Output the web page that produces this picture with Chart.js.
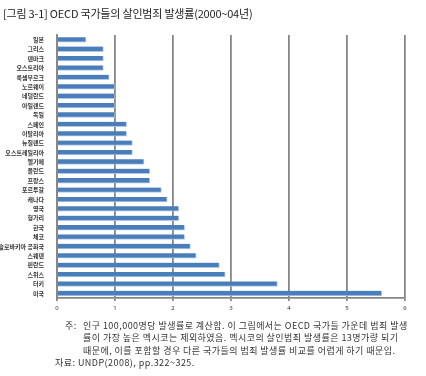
<!DOCTYPE html>
<html><head><meta charset="utf-8">
<script src="https://cdn.jsdelivr.net/npm/chart.js@4/dist/chart.umd.min.js"></script>
<style>
html,body{margin:0;padding:0;background:#fff;width:426px;height:376px;overflow:hidden;font-family:"Noto Sans CJK KR","Noto Sans",sans-serif;}
#wrap{position:absolute;left:0;top:0;width:426px;height:376px;}
#title{position:absolute;left:3px;top:5px;font-size:11px;color:#222;white-space:nowrap;letter-spacing:-0.2px;}
.note{position:absolute;font-size:9px;letter-spacing:0.45px;color:#333;white-space:nowrap;line-height:12.3px;}
</style></head>
<body>
<div id="wrap"><canvas id="c" width="426" height="376"></canvas></div>
<div id="title">[그림 3-1] OECD 국가들의 살인범죄 발생률(2000~04년)</div>
<div class="note" style="left:65px;top:320px;">주:</div>
<div class="note" style="left:83px;top:320px;">인구 100,000명당 발생률로 계산함. 이 그림에서는 OECD 국가들 가운데 범죄 발생<br>률이 가장 높은 멕시코는 제외하였음. 멕시코의 살인범죄 발생률은 13명가량 되기<br>때문에, 이를 포함할 경우 다른 국가들의 범죄 발생률 비교를 어렵게 하기 때문임.</div>
<div class="note" style="left:55px;top:357px;">자료: UNDP(2008), pp.322~325.</div>
<script>
const categories = ["일본","그리스","덴마크","오스트리아","룩셈부르크","노르웨이","네덜란드","아일랜드","독일","스페인","이탈리아","뉴질랜드","오스트레일리아","벨기에","폴란드","프랑스","포르투갈","캐나다","영국","헝가리","한국","체코","슬로바키아 공화국","스웨덴","핀란드","스위스","터키","미국"];
const values = [0.5,0.8,0.8,0.8,0.9,1.0,1.0,1.0,1.0,1.2,1.2,1.3,1.3,1.5,1.6,1.6,1.8,1.9,2.1,2.1,2.2,2.2,2.3,2.4,2.8,2.9,3.8,5.6];
const xTicks = [0,1,2,3,4,5,6];

new Chart(document.getElementById('c'), {
  type: 'bar',
  data: { labels: categories, datasets: [{ data: values, backgroundColor: '#4a7ebb', borderColor: 'rgba(170,195,230,0.9)', borderWidth: {top:0,bottom:1,left:0,right:1}, borderSkipped: false, barThickness: 5 }] },
  options: {
    indexAxis: 'y', responsive: false, animation: false, devicePixelRatio: 1,
    layout: { padding: { left: 0, right: 21, top: 35, bottom: 63 } },
    plugins: { legend: { display: false }, tooltip: { enabled: false } },
    scales: {
      x: {
        min: 0, max: 6,
        afterBuildTicks: s => { s.ticks = xTicks.map(v => ({ value: v })); },
        afterFit: s => { s.height = 15; },
        grid: { color: '#868686', lineWidth: 1.8, tickLength: 3, drawTicks: true, tickColor: '#868686' },
        border: { color: '#868686', width: 1.8 },
        ticks: { font: { size: 6, family: 'Noto Sans' }, color: '#333', padding: 4 }
      },
      y: {
        afterFit: s => { s.width = 57; },
        grid: { display: false, drawTicks: true },
        border: { color: '#868686', width: 1.8 },
        ticks: { font: { size: 6, weight: 'bold', family: 'Noto Sans CJK KR' }, color: '#333', padding: 5, autoSkip: false }
      }
    }
  }
});
</script>
</body></html>
